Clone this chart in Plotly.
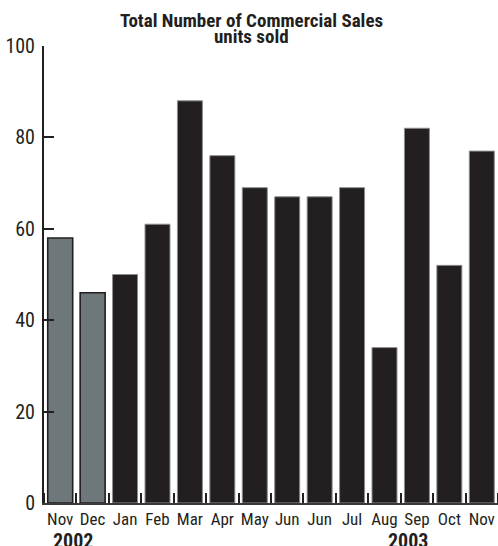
import plotly.graph_objects as go

months = ["Nov", "Dec", "Jan", "Feb", "Mar", "Apr", "May", "Jun", "Jun", "Jul", "Aug", "Sep", "Oct", "Nov"]
years = [2002, 2002, 2003, 2003, 2003, 2003, 2003, 2003, 2003, 2003, 2003, 2003, 2003, 2003]
units_sold = [58, 46, 50, 61, 88, 76, 69, 67, 67, 69, 34, 82, 52, 77]
year_labels = ["2002", "2003"]
year_label_pos = [0.38, 10.72]
y_ticks = [0, 20, 40, 60, 80, 100]
title_lines = ["Total Number of Commercial Sales", "units sold"]

FONT = "Roboto Condensed, Open Sans Condensed, DejaVu Sans Condensed, sans-serif"
INK = "#231f20"
x = list(range(len(months)))
fill = ["#6e7779" if yv == 2002 else INK for yv in years]
edge = [INK if yv == 2002 else "#8c8c8c" for yv in years]
edge_w = [1.6 if yv == 2002 else 1.0 for yv in years]

fig = go.Figure(go.Bar(
    x=x, y=units_sold,
    marker=dict(color=fill, line=dict(color=edge, width=edge_w)),
    hoverinfo="x+y",
))

for lbl, pos in zip(year_labels, year_label_pos):
    fig.add_annotation(
        x=pos, y=0, xref="x", yref="paper", yshift=-38,
        text="<b>" + lbl + "</b>", showarrow=False,
        font=dict(family=FONT, size=20, color=INK),
        xanchor="center", yanchor="middle",
    )

for i, line in enumerate(title_lines):
    fig.add_annotation(
        x=0.458, y=1, xref="paper", yref="paper", yshift=26 - i * 16,
        text="<b>" + line + "</b>", showarrow=False,
        font=dict(family=FONT, size=19, color=INK),
        xanchor="center", yanchor="middle",
    )

fig.update_layout(
    width=498, height=546,
    margin=dict(l=44, r=0, t=46, b=43),
    paper_bgcolor="white", plot_bgcolor="white",
    bargap=0.23,
    showlegend=False,
    font=dict(family=FONT, color=INK),
)
fig.update_xaxes(
    range=[-0.5, len(months) - 0.5],
    tickmode="array", tickvals=x, ticktext=months,
    ticks="", showgrid=False, zeroline=False,
    showline=True, linecolor="#3a3a3a", linewidth=2,
    tickfont=dict(family=FONT, size=17, color=INK),
    minor=dict(tickmode="linear", tick0=-0.5, dtick=1, ticks="inside",
               ticklen=10, tickwidth=1.5, tickcolor=INK, showgrid=False),
    fixedrange=True,
)
fig.update_yaxes(
    range=[0, 100], tickmode="array", tickvals=y_ticks,
    ticks="inside", ticklen=10, tickwidth=2, tickcolor=INK,
    showline=True, linecolor=INK, linewidth=2,
    showgrid=False, zeroline=False,
    tickfont=dict(family=FONT, size=20, color=INK),
    ticklabelstandoff=3,
    fixedrange=True,
)

fig.write_html(
    "out.html",
    config={"displayModeBar": False},
    post_script="document.body.style.margin='0px';document.body.style.overflow='hidden';",
)
